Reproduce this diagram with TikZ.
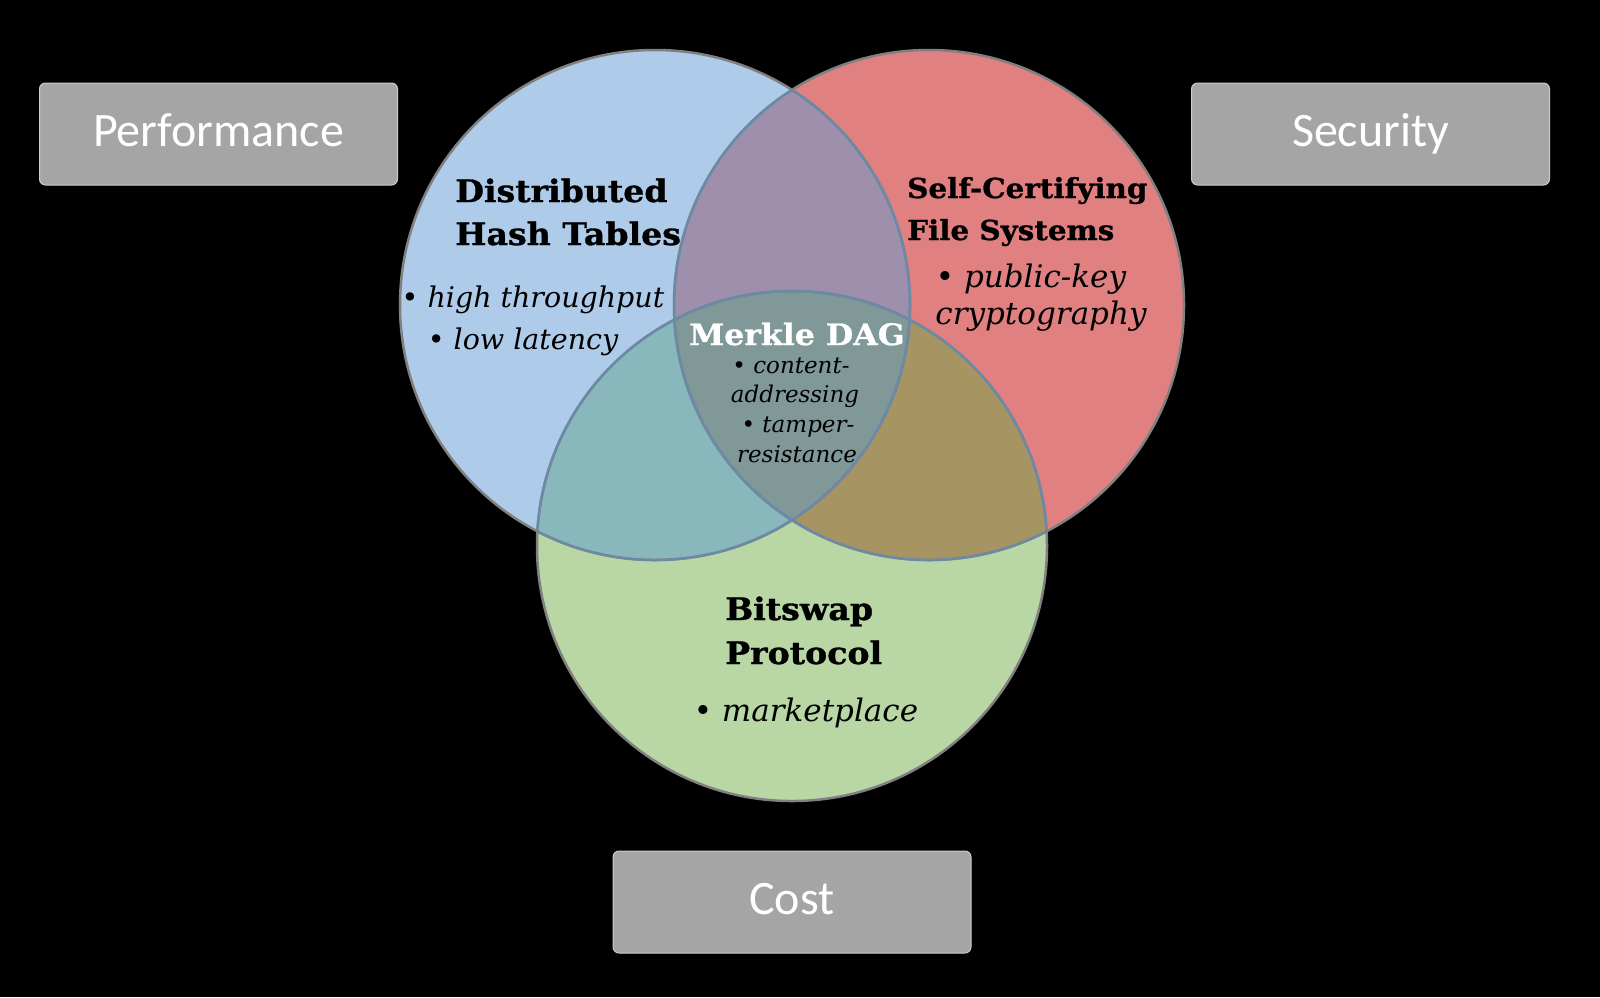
\documentclass[tikz,border=0pt]{standalone}
\usepackage{fontspec}
\newfontfamily\boxfont{Carlito}
\newfontfamily\ttlfont[FakeStretch=1.07, BoldFeatures={FakeBold=1}]{DejaVu Serif}
\newfontfamily\itfont{DejaVu Serif}
\definecolor{cblue}{RGB}{174,204,234}
\definecolor{cred}{RGB}{224,128,128}
\definecolor{cgreen}{RGB}{184,215,164}
\definecolor{cbr}{RGB}{158,143,172}
\definecolor{cbg}{RGB}{136,184,188}
\definecolor{crg}{RGB}{166,149,98}
\definecolor{call}{RGB}{128,152,152}
\definecolor{cedge}{RGB}{128,128,128}
\definecolor{cinner}{RGB}{108,138,166}
\definecolor{cboxfill}{RGB}{165,165,165}
\definecolor{cboxline}{RGB}{205,205,205}
\tikzset{
  axisbox/.style={draw=cboxline, line width=1pt, fill=cboxfill, rounded corners=6pt,
    minimum width=358pt, minimum height=102pt, inner sep=0pt, text height=24pt, text depth=0pt,
    text=white, font={\boxfont\fontsize{48pt}{48pt}\selectfont}},
  ttl/.style={font={\ttlfont\bfseries\fontsize{31pt}{31pt}\selectfont}, inner sep=0pt, anchor=base west},
  ttlsfs/.style={font={\ttlfont\bfseries\fontsize{27.5pt}{27.5pt}\selectfont}, inner sep=0pt, anchor=base west},
  ttlmerkle/.style={font={\ttlfont\bfseries\fontsize{29.5pt}{29.5pt}\selectfont}, inner sep=0pt, anchor=base, text=white},
  itm/.style={font={\itfont\itshape\fontsize{28.5pt}{28.5pt}\selectfont}, inner sep=0pt, anchor=base},
  itmbig/.style={font={\itfont\itshape\fontsize{31pt}{31pt}\selectfont}, inner sep=0pt, anchor=base},
  itmsmall/.style={font={\itfont\itshape\fontsize{23pt}{23pt}\selectfont}, inner sep=0pt, anchor=base},
  ring/.style={circle, minimum size=510pt, inner sep=0pt},
}
\begin{document}
\begin{tikzpicture}[x=1pt,y=-1pt]
\fill[black] (0,0) rectangle (1600,997);
\useasboundingbox (0,0) rectangle (1600,997);

% circle centres
\coordinate (cB) at (655,305);
\coordinate (cR) at (929,305);
\coordinate (cG) at (792,546);

% base fills
\fill[cblue] (cB) circle[radius=255pt];
\fill[cred] (cR) circle[radius=255pt];
\fill[cgreen] (cG) circle[radius=255pt];
% pairwise overlaps
\begin{scope}
  \clip (cB) circle[radius=255pt];
  \fill[cbr] (cR) circle[radius=255pt];
  \fill[cbg] (cG) circle[radius=255pt];
\end{scope}
\begin{scope}
  \clip (cR) circle[radius=255pt];
  \fill[crg] (cG) circle[radius=255pt];
\end{scope}
\begin{scope}
  \clip (cB) circle[radius=255pt];
  \clip (cR) circle[radius=255pt];
  \fill[call] (cG) circle[radius=255pt];
\end{scope}
% outlines
\node[ring, draw=cedge, line width=2.5pt] (dht) at (cB) {};
\node[ring, draw=cedge, line width=2.5pt] (sfs) at (cR) {};
\node[ring, draw=cedge, line width=2.5pt] (bsw) at (cG) {};
\begin{scope}
  \clip (cB) circle[radius=254pt];
  \draw[cinner, line width=2.5pt] (cR) circle[radius=255pt];
  \draw[cinner, line width=2.5pt] (cG) circle[radius=255pt];
\end{scope}
\begin{scope}
  \clip (cR) circle[radius=254pt];
  \draw[cinner, line width=2.5pt] (cB) circle[radius=255pt];
  \draw[cinner, line width=2.5pt] (cG) circle[radius=255pt];
\end{scope}
\begin{scope}
  \clip (cG) circle[radius=254pt];
  \draw[cinner, line width=2.5pt] (cB) circle[radius=255pt];
  \draw[cinner, line width=2.5pt] (cR) circle[radius=255pt];
\end{scope}

% axis boxes
\node[axisbox] (perf) at (218.5,134) {Performance};
\node[axisbox] (sec) at (1370.5,134) {Security};
\node[axisbox] (cost) at (792,902) {Cost};

% DHT
\node[ttl] (dht1) at (455,202) {Distributed};
\node[ttl] (dht2) at (455,245) {Hash Tables};
\node[itm] (dht3) at (533,307) {\textbullet\ high throughput};
\node[itm] (dht4) at (523,349) {\textbullet\ low latency};

% SFS
\node[ttlsfs] (sfs1) at (907,198) {Self-Certifying};
\node[ttlsfs] (sfs2) at (907,240) {File Systems};
\node[itmbig] (sfs3) at (1031,287) {\textbullet\ public-key};
\node[itmbig] (sfs4) at (1041,324) {cryptography};

% Merkle
\node[ttlmerkle] (mdag) at (797,345) {Merkle DAG};
\node[itmsmall] (m1) at (791,373) {\textbullet\ content-};
\node[itmsmall] (m2) at (795,402) {addressing};
\node[itmsmall] (m3) at (798,432) {\textbullet\ tamper-};
\node[itmsmall] (m4) at (797,462) {resistance};

% Bitswap
\node[ttl] (bs1) at (725,620) {Bitswap};
\node[ttl] (bs2) at (725,664) {Protocol};
\node[itmbig] (bs3) at (806,721) {\textbullet\ marketplace};
\end{tikzpicture}
\end{document}
